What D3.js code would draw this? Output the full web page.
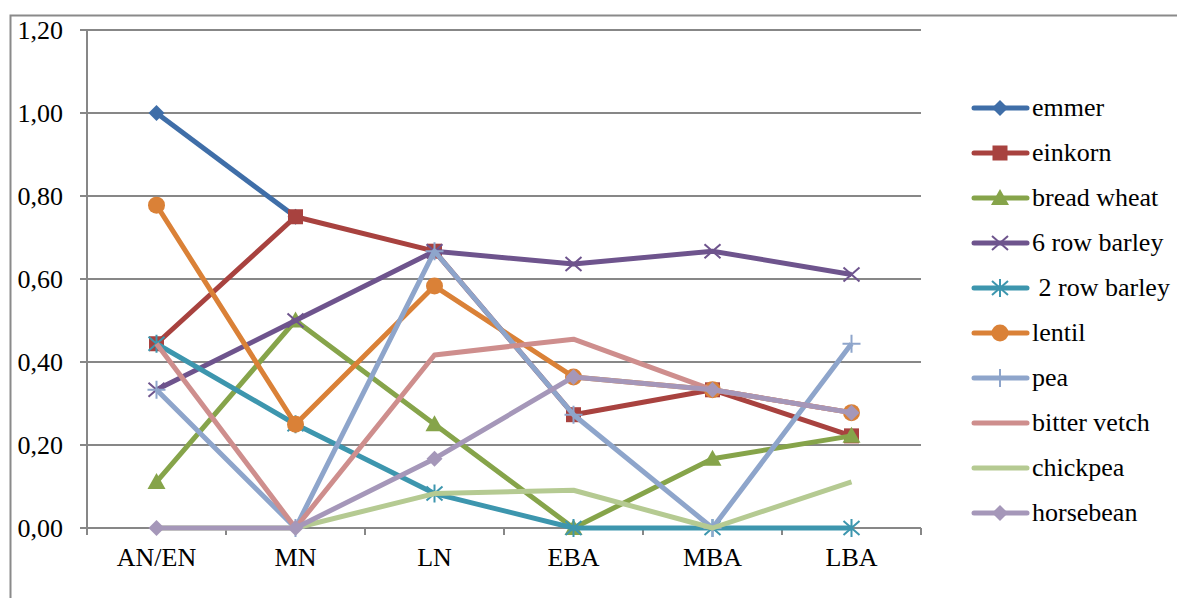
<!DOCTYPE html>
<html>
<head>
<meta charset="utf-8">
<script src="https://cdn.jsdelivr.net/npm/d3@7/dist/d3.min.js"></script>
<style>
  body { margin: 0; background: #fff; }
  svg { display: block; }
  text { font-family: "Liberation Serif", "Times New Roman", "DejaVu Serif", serif; }
</style>
</head>
<body>
<svg width="1177" height="598"></svg>
<script>
var periods = ["AN/EN", "MN", "LN", "EBA", "MBA", "LBA"];
var yTicks = [0, 0.2, 0.4, 0.6, 0.8, 1.0, 1.2];

var emmer       = [1.00, 0.75, null, null, null, null];
var einkorn     = [0.444, 0.75, 0.667, 0.273, 0.333, 0.222];
var breadWheat  = [0.111, 0.50, 0.25, 0.00, 0.167, 0.222];
var barley6     = [0.333, 0.50, 0.667, 0.636, 0.667, 0.611];
var barley2     = [0.444, 0.25, 0.083, 0.00, 0.00, 0.00];
var lentil      = [0.778, 0.25, 0.583, 0.364, 0.333, 0.278];
var pea         = [0.333, 0.00, 0.667, 0.273, 0.00, 0.444];
var bitterVetch = [0.444, 0.00, 0.417, 0.455, 0.333, 0.278];
var chickpea    = [0.00, 0.00, 0.083, 0.091, 0.00, 0.111];
var horsebean   = [0.00, 0.00, 0.167, 0.364, 0.333, 0.278];

var seriesNames = ["emmer", "einkorn", "bread wheat", "6 row barley", " 2 row barley",
                   "lentil", "pea", "bitter vetch", "chickpea", "horsebean"];
var seriesValues = [emmer, einkorn, breadWheat, barley6, barley2,
                    lentil, pea, bitterVetch, chickpea, horsebean];
var colors = ["#3F6EA8", "#A8423F", "#86A44A", "#6E548D", "#3D96AE",
              "#DA8137", "#8EA5CB", "#CE8E8D", "#B5CA92", "#A597B9"];
var markers = ["diamond", "square", "triangle", "x", "star",
               "circle", "plus", null, null, "diamond"];

var font = "'Liberation Serif', 'Times New Roman', serif";
var svg = d3.select("svg");

// outer chart frame
svg.append("rect")
    .attr("x", 10.5).attr("y", 15.5)
    .attr("width", 1200).attr("height", 620)
    .attr("fill", "none").attr("stroke", "#8a8a8a").attr("stroke-width", 2);

var plotLeft = 87, plotRight = 921, plotTop = 30, plotBottom = 528;

var x = d3.scaleBand().domain(periods).range([plotLeft, plotRight]).padding(0);
var cx = function(c) { return x(c) + x.bandwidth() / 2; };
var y = d3.scaleLinear().domain([0, 1.2]).range([plotBottom, plotTop]);

// gridlines
svg.append("g").selectAll("line").data(yTicks).join("line")
    .attr("x1", plotLeft - 7).attr("x2", plotRight)
    .attr("y1", d => y(d)).attr("y2", d => y(d))
    .attr("stroke", "#878787").attr("stroke-width", 2);

// y axis line
svg.append("line")
    .attr("x1", plotLeft).attr("x2", plotLeft).attr("y1", plotTop).attr("y2", plotBottom)
    .attr("stroke", "#878787").attr("stroke-width", 2);

// x ticks
var xb = periods.map(p => x(p)).concat([plotRight]);
svg.append("g").selectAll("line").data(xb).join("line")
    .attr("x1", d => d).attr("x2", d => d)
    .attr("y1", plotBottom).attr("y2", plotBottom + 7)
    .attr("stroke", "#878787").attr("stroke-width", 2);

// y labels
svg.append("g").selectAll("text").data(yTicks).join("text")
    .attr("x", 63).attr("y", d => y(d) + 9)
    .attr("text-anchor", "end").attr("font-size", 26).attr("font-family", font).attr("fill", "#000")
    .text(d => d3.format(".2f")(d).replace(".", ","));

// x labels
svg.append("g").selectAll("text").data(periods).join("text")
    .attr("x", d => cx(d)).attr("y", 566)
    .attr("text-anchor", "middle").attr("font-size", 26).attr("font-family", font).attr("fill", "#000")
    .text(d => d);

function drawMarker(g, type, color) {
  var s = 8;
  if (type === "diamond") {
    g.append("path").attr("d", "M0," + -s + "L" + s + ",0L0," + s + "L" + -s + ",0Z").attr("fill", color);
  } else if (type === "square") {
    g.append("rect").attr("x", -7.5).attr("y", -7.5).attr("width", 15).attr("height", 15).attr("fill", color);
  } else if (type === "triangle") {
    g.append("path").attr("d", "M0,-9L9,7L-9,7Z").attr("fill", color);
  } else if (type === "circle") {
    g.append("circle").attr("r", 8.5).attr("fill", color);
  } else if (type === "x") {
    g.append("path").attr("d", "M-8,-7L8,7M-8,7L8,-7").attr("stroke", color).attr("stroke-width", 2).attr("fill", "none");
  } else if (type === "star") {
    g.append("path").attr("d", "M-8,-7L8,7M-8,7L8,-7M0,-9L0,9").attr("stroke", color).attr("stroke-width", 2).attr("fill", "none");
  } else if (type === "plus") {
    g.append("path").attr("d", "M-9,0L9,0M0,-9L0,9").attr("stroke", color).attr("stroke-width", 2).attr("fill", "none");
  }
}

var line = d3.line()
    .defined(d => d.v !== null)
    .x(d => cx(d.p))
    .y(d => y(d.v));

seriesValues.forEach(function(vals, i) {
  var pts = vals.map((v, j) => ({ p: periods[j], v: v }));
  var g = svg.append("g");
  g.append("path").datum(pts)
      .attr("d", line)
      .attr("fill", "none")
      .attr("stroke", colors[i])
      .attr("stroke-width", 5)
      .attr("stroke-linejoin", "round");
  if (markers[i]) {
    pts.filter(d => d.v !== null).forEach(function(d) {
      var m = g.append("g").attr("transform", "translate(" + cx(d.p) + "," + y(d.v) + ")");
      drawMarker(m, markers[i], colors[i]);
    });
  }
});

// legend
var legend = svg.append("g");
seriesNames.forEach(function(name, i) {
  var ly = 108 + i * 45;
  var g = legend.append("g").attr("transform", "translate(0," + ly + ")");
  g.append("line")
      .attr("x1", 974).attr("x2", 1027).attr("y1", 0).attr("y2", 0)
      .attr("stroke", colors[i]).attr("stroke-width", 5).attr("stroke-linecap", "round");
  if (markers[i]) {
    var m = g.append("g").attr("transform", "translate(1000,0)");
    drawMarker(m, markers[i], colors[i]);
  }
  g.append("text")
      .attr("x", 1032).attr("y", 8)
      .attr("font-size", 26).attr("font-family", font).attr("fill", "#000")
      .style("white-space", "pre")
      .text(name);
});
</script>
</body>
</html>
